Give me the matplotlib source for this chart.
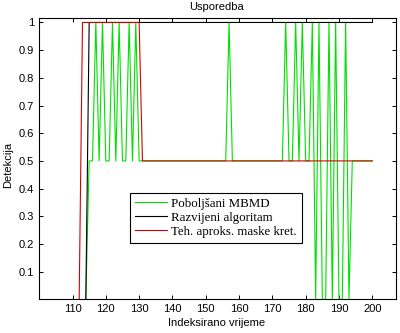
import matplotlib
matplotlib.use("Agg")
import matplotlib.pyplot as plt

# Breakpoints of each detection curve (time index, detection value)
mbmd_t = [114, 115, 116, 117, 118, 119, 120, 121, 122, 123, 124, 125, 126,
          127, 128, 129, 130, 156, 157, 158, 173, 174, 175, 176, 177, 178, 179,
          180, 181, 182, 183, 184, 185, 186, 187, 188, 189, 190, 191, 192, 193,
          194, 200]
mbmd_v = [0, 0.5, 0.5, 1, 0.5, 1, 0.5, 0.5, 1, 0.5, 1, 0.5, 0.5,
          1, 0.5, 1, 0.5, 0.5, 1, 0.5, 0.5, 1, 0.5, 0.5, 1, 0.5, 1,
          0.5, 0.5, 1, 0, 1, 0, 0, 1, 0, 1, 0, 0, 1, 0,
          0.5, 0.5]

razv_t = [114, 115, 200]
razv_v = [0, 1, 1]

teh_t = [112, 113, 130, 131, 200]
teh_v = [0, 1, 1, 0.5, 0.5]

labels = ["Poboljšani MBMD", "Razvijeni algoritam", "Teh. aproks. maske kret."]
xticks = [110, 120, 130, 140, 150, 160, 170, 180, 190, 200]
yticks = [0.1, 0.2, 0.3, 0.4, 0.5, 0.6, 0.7, 0.8, 0.9, 1.0]
ytick_labels = ["0.1", "0.2", "0.3", "0.4", "0.5", "0.6", "0.7", "0.8", "0.9", "1"]

plt.rcParams["font.family"] = ["Liberation Sans", "DejaVu Sans"]

fig = plt.figure(figsize=(4.0, 3.33), dpi=100)
ax = fig.add_axes([0.098, 0.101, 0.891, 0.844])

ax.plot(mbmd_t, mbmd_v, color="#00e000", lw=0.8, label=labels[0])
ax.plot(razv_t, razv_v, color="black", lw=0.8, label=labels[1])
ax.plot(teh_t, teh_v, color="#d40000", lw=0.8, label=labels[2])

ax.set_xlim(100, 207)
ax.set_ylim(0, 1.015)
ax.set_xticks(xticks)
ax.set_xticklabels([str(v) for v in xticks])
ax.set_yticks(yticks)
ax.set_yticklabels(ytick_labels)
ax.tick_params(direction="in", top=True, right=True, length=3, width=0.7,
               labelsize=8, pad=3.5)
for sp in ax.spines.values():
    sp.set_linewidth(0.8)
    sp.set_zorder(3)

ax.set_xlabel("Indeksirano vrijeme", fontsize=8)
ax.xaxis.set_label_coords(0.497, -0.066)
ax.set_ylabel("Detekcija", fontsize=8)
ax.yaxis.set_label_coords(-0.072, 0.48)

fig.text(216 / 400, 1 - 10 / 333, "Usporedba", ha="center", va="baseline",
         fontsize=8)

leg = ax.legend(loc="upper left", bbox_to_anchor=(130 / 400, 1 - 192.7 / 333),
                bbox_transform=fig.transFigure, borderaxespad=0,
                prop={"family": ["Liberation Serif"], "size": 9.3},
                handlelength=2.5, handletextpad=0.3, labelspacing=0.15,
                borderpad=0.4, fancybox=False, framealpha=1,
                edgecolor="black")
leg.get_frame().set_linewidth(0.8)

fig.savefig("out.png", dpi=100)
